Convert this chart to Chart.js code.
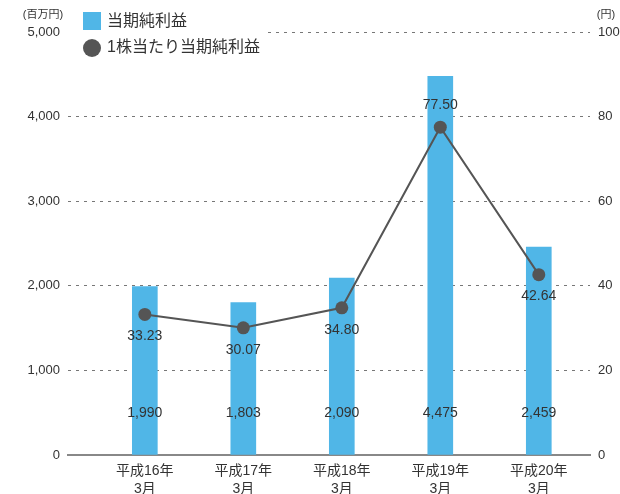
<!DOCTYPE html>
<html>
<head>
<meta charset="utf-8">
<script src="https://cdn.jsdelivr.net/npm/chart.js@4/dist/chart.umd.min.js"></script>
<style>
  html, body { margin: 0; padding: 0; background: #fff; }
</style>
</head>
<body>
<canvas id="myChart" width="620" height="494"></canvas>
<script>
const FONT = '"Liberation Sans", "Noto Sans CJK JP", sans-serif';

const periods = [['平成16年', '3月'], ['平成17年', '3月'], ['平成18年', '3月'], ['平成19年', '3月'], ['平成20年', '3月']];
const netIncome = [1990, 1803, 2090, 4475, 2459];   // 百万円
const eps = [33.23, 30.07, 34.80, 77.50, 42.64];      // 円

const barColor = '#50b6e7';
const lineColor = '#555555';

const data = {
    datasets: [{
        type: 'line',
        label: '1株当たり当期純利益',
        yAxisID: 'y1',
        order: 0,
        borderColor: lineColor,
        backgroundColor: lineColor,
        borderWidth: 2,
        pointRadius: 6.5,
        pointBackgroundColor: lineColor,
        pointBorderWidth: 0,
        tension: 0,
        data: eps.map((v, i) => ({x: i, y: v})),
    }, {
        type: 'bar',
        label: '当期純利益',
        yAxisID: 'y',
        order: 1,
        backgroundColor: barColor,
        barThickness: 25,
        data: netIncome.map((v, i) => ({x: i, y: v})),
    }]
};

const overlay = {
    id: 'overlay',
    afterDatasetsDraw: (chart, args, options) => {
        const {ctx, scales} = chart;
        ctx.save();
        ctx.font = '14px ' + FONT;
        ctx.fillStyle = '#333';
        ctx.textAlign = 'center';
        ctx.textBaseline = 'middle';
        chart.getDatasetMeta(1).data.forEach((bar, i) => {
            ctx.fillText(netIncome[i].toLocaleString('en-US'), bar.x, scales.y.bottom - 42);
        });
        chart.getDatasetMeta(0).data.forEach((pt, i) => {
            const dy = options.above.includes(i) ? -22 : 22;
            ctx.fillText(eps[i].toFixed(2), pt.x, pt.y + dy);
        });
        ctx.restore();
    },
    afterDraw: (chart) => {
        const {ctx, chartArea} = chart;
        const ds = chart.data.datasets;
        ctx.save();
        ctx.font = '16px ' + FONT;
        // white box behind legend hides the top grid line
        const textEnd = 107 + ctx.measureText(ds[0].label).width;
        ctx.fillStyle = '#fff';
        ctx.fillRect(chartArea.left, chartArea.top - 6, textEnd + 4 - chartArea.left, 12);

        ctx.textBaseline = 'middle';
        ctx.textAlign = 'left';
        ctx.fillStyle = ds[1].backgroundColor;
        ctx.fillRect(83, 12, 18, 18);
        ctx.fillStyle = '#333';
        ctx.fillText(ds[1].label, 107, 22);
        ctx.fillStyle = ds[0].backgroundColor;
        ctx.beginPath();
        ctx.arc(92, 48, 9, 0, Math.PI * 2);
        ctx.fill();
        ctx.fillStyle = '#333';
        ctx.fillText(ds[0].label, 107, 48);

        // unit labels
        ctx.font = '11px ' + FONT;
        ctx.textAlign = 'center';
        ctx.fillText('(百万円)', 43, 15);
        ctx.fillText('(円)', 606, 15);
        ctx.restore();
    }
};

const config = {
    data: data,
    options: {
        responsive: false,
        animation: false,
        layout: { padding: { top: 32 } },
        plugins: {
            legend: { display: false },
            tooltip: { enabled: false },
            overlay: { above: [3] }
        },
        scales: {
            x: {
                type: 'linear',
                bounds: 'data',
                offset: false,
                min: -0.78,
                max: 4.52,
                afterBuildTicks: s => { s.ticks = periods.map((p, i) => ({value: i})); },
                afterFit: s => { s.height = 39; },
                grid: { display: false, drawTicks: false, offset: false },
                border: { display: true, color: '#888', width: 2 },
                ticks: {
                    autoSkip: false,
                    maxRotation: 0,
                    padding: 7,
                    color: '#333',
                    font: { family: FONT, size: 14, lineHeight: 1.3 },
                    callback: (v, i) => periods[i]
                }
            },
            y: {
                position: 'left',
                min: 0,
                max: 5000,
                afterFit: s => { s.width = 68; },
                grid: { color: '#777', lineWidth: 1, drawTicks: false },
                border: { display: false, dash: [3, 5] },
                ticks: {
                    stepSize: 1000,
                    padding: 8,
                    color: '#333',
                    font: { family: FONT, size: 13 },
                    callback: v => v.toLocaleString('en-US')
                }
            },
            y1: {
                position: 'right',
                min: 0,
                max: 100,
                afterFit: s => { s.width = 30; },
                grid: { display: false, drawTicks: false },
                border: { display: false },
                ticks: {
                    stepSize: 20,
                    padding: 8,
                    color: '#333',
                    font: { family: FONT, size: 13 }
                }
            }
        }
    },
    plugins: [overlay],
};

new Chart(document.getElementById('myChart'), config);
</script>
</body>
</html>
